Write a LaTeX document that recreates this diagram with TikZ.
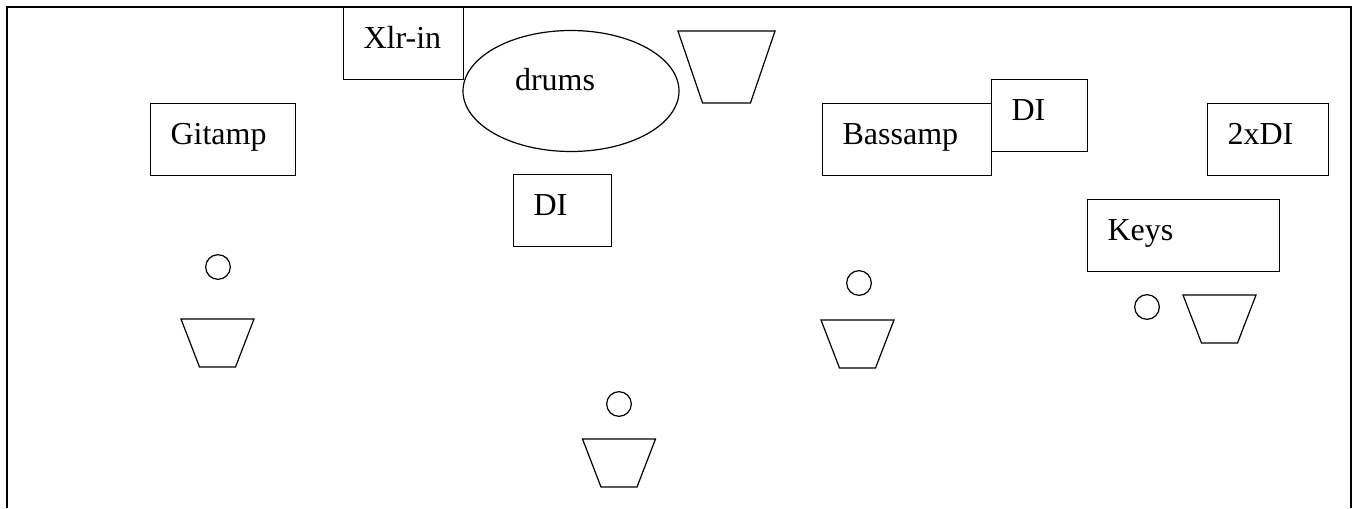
\documentclass[tikz,border=0pt]{standalone}
\usepackage{fontspec}
\setmainfont{Liberation Serif}
\usetikzlibrary{shapes.geometric}
\tikzset{wedge/.pic = {\draw (-36.5,0) -- (36.5,0) -- (18,48) -- (-18,48) -- cycle;}}
\begin{document}
\begin{tikzpicture}[x=0.75pt, y=-0.75pt, line width=0.9pt,
    font=\fontsize{24}{28}\selectfont,
    gear/.style = {draw, fill=white, anchor=north west, align=left, inner xsep=15pt, inner ysep=0pt, text height=31pt, text depth=23pt},
    head/.style = {circle, draw, minimum size=18.5pt, inner sep=0pt}]
    \useasboundingbox (0,0) rectangle (1357,508);
    % stage outline, open at the front
    \coordinate (frontl) at (7,508);
    \coordinate (backl) at (7,7);
    \coordinate (backr) at (1351,7);
    \coordinate (frontr) at (1351,508);
    \draw (frontl) -- (backl) -- (backr) -- (frontr);
    % backline
    \node[gear, text width=60pt] (xlr) at (343,7) {Xlr-in};
    \node[draw, ellipse, minimum width=162pt, minimum height=90.75pt, text width=84pt, align=left,
          inner sep=0pt, text height=10pt, text depth=11.5pt] (drums) at (571,91) {drums};
    \node[gear, text width=78.75pt] (gitamp) at (150,103) {Gitamp};
    \node[gear, text width=43.5pt] (drumdi) at (513,174) {DI};
    \node[gear, text width=96.75pt] (bassamp) at (822,103) {Bassamp};
    \node[gear, text width=42pt] (bassdi) at (991,79) {DI};
    \node[gear, text width=60.75pt] (keysdi) at (1207,103) {2xDI};
    \node[gear, text width=114pt] (keys) at (1087,199) {Keys};
    % players
    \node[head] (gitar) at (218,267) {};
    \node[head] (vocal) at (619,404) {};
    \node[head] (bass) at (859,283) {};
    \node[head] (keyer) at (1147,307) {};
    % monitors
    \pic[xscale=1.33, yscale=1.5] at (726.5,31) {wedge};
    \pic at (217.5,319) {wedge};
    \pic at (619,439) {wedge};
    \pic at (857.5,320) {wedge};
    \pic at (1219.5,295) {wedge};
\end{tikzpicture}
\end{document}
